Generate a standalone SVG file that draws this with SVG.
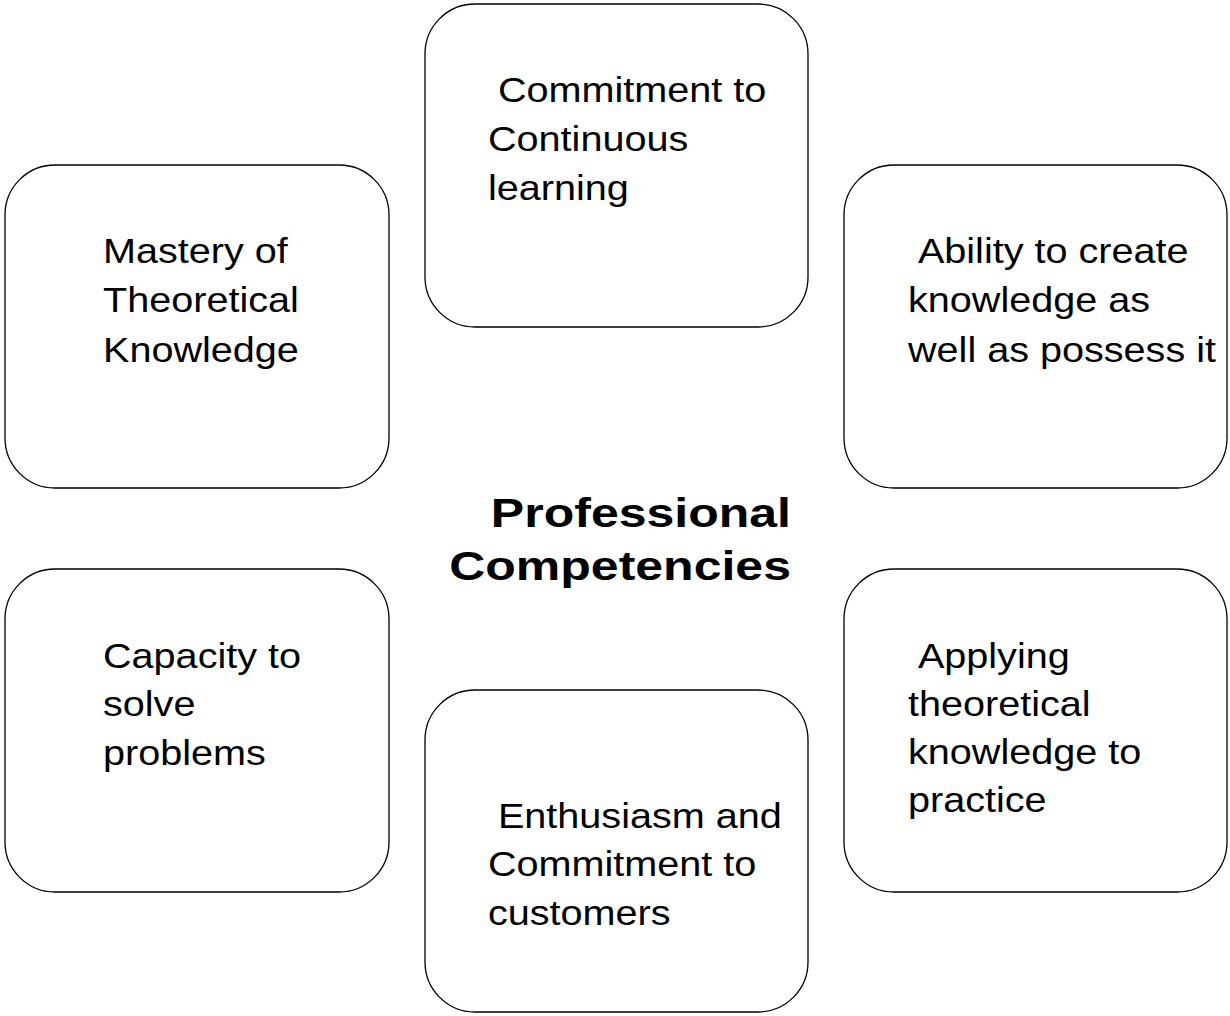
<svg xmlns="http://www.w3.org/2000/svg" width="1230" height="1016" viewBox="0 0 1230 1016">
<style>
.box{fill:#fff;stroke:#000;stroke-width:1.3}
.t{font-family:"Liberation Sans",Arial,sans-serif;font-size:36px;fill:#000}
.h{font-family:"Liberation Sans",Arial,sans-serif;font-size:41px;font-weight:bold;fill:#000;text-anchor:end}
</style>
<rect width="1230" height="1016" fill="#fff"/>
<g id="connectors"/>
<g id="node-commitment-learning">
<rect class="box" x="425" y="4" width="383" height="323" rx="50" ry="50"/>
<text class="t" transform="translate(488,102) scale(1.1,1)"><tspan x="9">Commitment to</tspan><tspan x="0" y="49">Continuous</tspan><tspan x="0" y="98">learning</tspan></text>
</g>
<g id="node-mastery">
<rect class="box" x="5" y="165" width="384" height="323" rx="50" ry="50"/>
<text class="t" transform="translate(103,263) scale(1.1,1)"><tspan x="0">Mastery of</tspan><tspan x="0" y="49.5">Theoretical</tspan><tspan x="0" y="99">Knowledge</tspan></text>
</g>
<g id="node-ability">
<rect class="box" x="844" y="165" width="383" height="323" rx="50" ry="50"/>
<text class="t" transform="translate(908,263) scale(1.1,1)"><tspan x="9">Ability to create</tspan><tspan x="0" y="49.5">knowledge as</tspan><tspan x="0" y="99">well as possess it</tspan></text>
</g>
<g id="node-center">
<text class="h" transform="translate(791,527) scale(1.22,1)"><tspan x="0">Professional</tspan><tspan x="0" y="53">Competencies</tspan></text>
</g>
<g id="node-capacity">
<rect class="box" x="5" y="569" width="384" height="323" rx="50" ry="50"/>
<text class="t" transform="translate(103,668) scale(1.1,1)"><tspan x="0">Capacity to</tspan><tspan x="0" y="48.5">solve</tspan><tspan x="0" y="97">problems</tspan></text>
</g>
<g id="node-applying">
<rect class="box" x="844" y="569" width="383" height="323" rx="50" ry="50"/>
<text class="t" transform="translate(908,668) scale(1.1,1)"><tspan x="9">Applying</tspan><tspan x="0" y="48">theoretical</tspan><tspan x="0" y="96">knowledge to</tspan><tspan x="0" y="144">practice</tspan></text>
</g>
<g id="node-enthusiasm">
<rect class="box" x="425" y="690" width="383" height="322" rx="50" ry="50"/>
<text class="t" transform="translate(488,828) scale(1.1,1)"><tspan x="9">Enthusiasm and</tspan><tspan x="0" y="48.5">Commitment to</tspan><tspan x="0" y="97">customers</tspan></text>
</g>
</svg>
